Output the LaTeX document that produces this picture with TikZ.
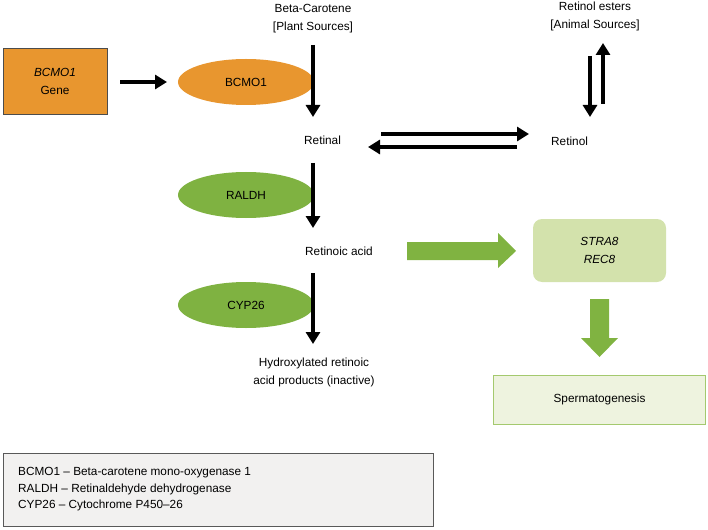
\documentclass[tikz,border=0pt]{standalone}
\usepackage{fontspec}
\setmainfont{Liberation Sans}
\usetikzlibrary{arrows.meta,shapes.geometric}
\definecolor{orangeF}{HTML}{E8962F}
\definecolor{greenE}{HTML}{7FB241}
\definecolor{greenA}{HTML}{80B341}
\definecolor{straF}{HTML}{D3E2AC}
\definecolor{spermF}{HTML}{EEF3DF}
\definecolor{spermD}{HTML}{A4C96E}
\definecolor{legF}{HTML}{F2F1F0}
\tikzset{
  txt/.style={font=\fontsize{11.8}{14}\selectfont, align=center, inner sep=0pt},
  enz/.style={ellipse, minimum width=136pt, minimum height=46pt, inner sep=0pt, font=\fontsize{11.8}{14}\selectfont},
  blk/.style={line width=3.6pt, -{Triangle[width=14pt,length=12pt]}},
  bigarrow/.style={fill=greenA, draw=none}
}
\begin{document}
\begin{tikzpicture}[x=1pt,y=-1pt]
\useasboundingbox (0,0) rectangle (708,529);
% gene box
\node[draw=black!70, line width=0.8pt, fill=orangeF, minimum width=104pt, minimum height=66pt, txt] (gene) at (55,81) {\textit{BCMO1}\\[4pt]Gene};
\node[enz, fill=orangeF] (bcmo) at (246,82) {BCMO1};
\coordinate (g1) at (120,82);
\coordinate (g2) at (167,82);
\draw[blk] (g1) -- (g2);
% top texts
\node[txt] (beta) at (313,19) {Beta-Carotene\\[4pt][Plant Sources]};
\node[txt] (esters) at (595,16) {Retinol esters\\[4pt][Animal Sources]};
\node[txt, anchor=west] (retinal) at (304,140) {Retinal};
\node[txt, anchor=west] (retinol) at (551,141) {Retinol};
% vertical arrows main column
\coordinate (a1s) at (313,45);
\coordinate (a1e) at (313,117);
\draw[blk] (a1s) -- (a1e);
% esters arrows
\coordinate (d1s) at (590,56);
\coordinate (d1e) at (590,117);
\draw[blk] (d1s) -- (d1e);
\coordinate (u1s) at (603,104);
\coordinate (u1e) at (603,43);
\draw[blk] (u1s) -- (u1e);
% retinal <-> retinol
\coordinate (r1s) at (381,134);
\coordinate (r1e) at (529,134);
\draw[blk] (r1s) -- (r1e);
\coordinate (r2s) at (517,147);
\coordinate (r2e) at (368,147);
\draw[blk] (r2s) -- (r2e);
% RALDH
\node[enz, fill=greenE] (raldh) at (246,195) {RALDH};
\coordinate (a2s) at (313,163);
\coordinate (a2e) at (313,228);
\draw[blk] (a2s) -- (a2e);
\node[txt, anchor=west] (ra) at (305,251) {Retinoic acid};
% CYP26
\node[enz, fill=greenE] (cyp) at (246,305) {CYP26};
\coordinate (a3s) at (313,273);
\coordinate (a3e) at (313,344);
\draw[blk] (a3s) -- (a3e);
\node[txt] (hydro) at (314,372) {Hydroxylated retinoic\\[4pt]acid products (inactive)};
% STRA8 box
\node[fill=straF, rounded corners=9pt, minimum width=133pt, minimum height=63pt, txt] (stra) at (599.5,250.5) {\textit{STRA8}\\[4pt]\textit{REC8}};
% big green right arrow
\fill[bigarrow] (407,242) -- (498,242) -- (498,233) -- (516,251) -- (498,268) -- (498,260) -- (407,260) -- cycle;
% Spermatogenesis
\node[fill=spermF, draw=spermD, line width=1pt, minimum width=212pt, minimum height=49pt, txt] (sperm) at (599.5,399.5) {Spermatogenesis};
% big green down arrow
\fill[bigarrow] (590,299) -- (609,299) -- (609,338) -- (618,338) -- (599.5,357) -- (581,338) -- (590,338) -- cycle;
% legend
\node[fill=legF, draw=black!65, line width=0.9pt, minimum width=430pt, minimum height=73pt, inner sep=0pt] (legbox) at (218,489.5) {};
\node[txt, align=left, anchor=west, font=\fontsize{11.8}{16.5}\selectfont] (legtxt) at (18,489.5) {BCMO1 – Beta-carotene mono-oxygenase 1\\RALDH – Retinaldehyde dehydrogenase\\CYP26 – Cytochrome P450–26};
\end{tikzpicture}
\end{document}
